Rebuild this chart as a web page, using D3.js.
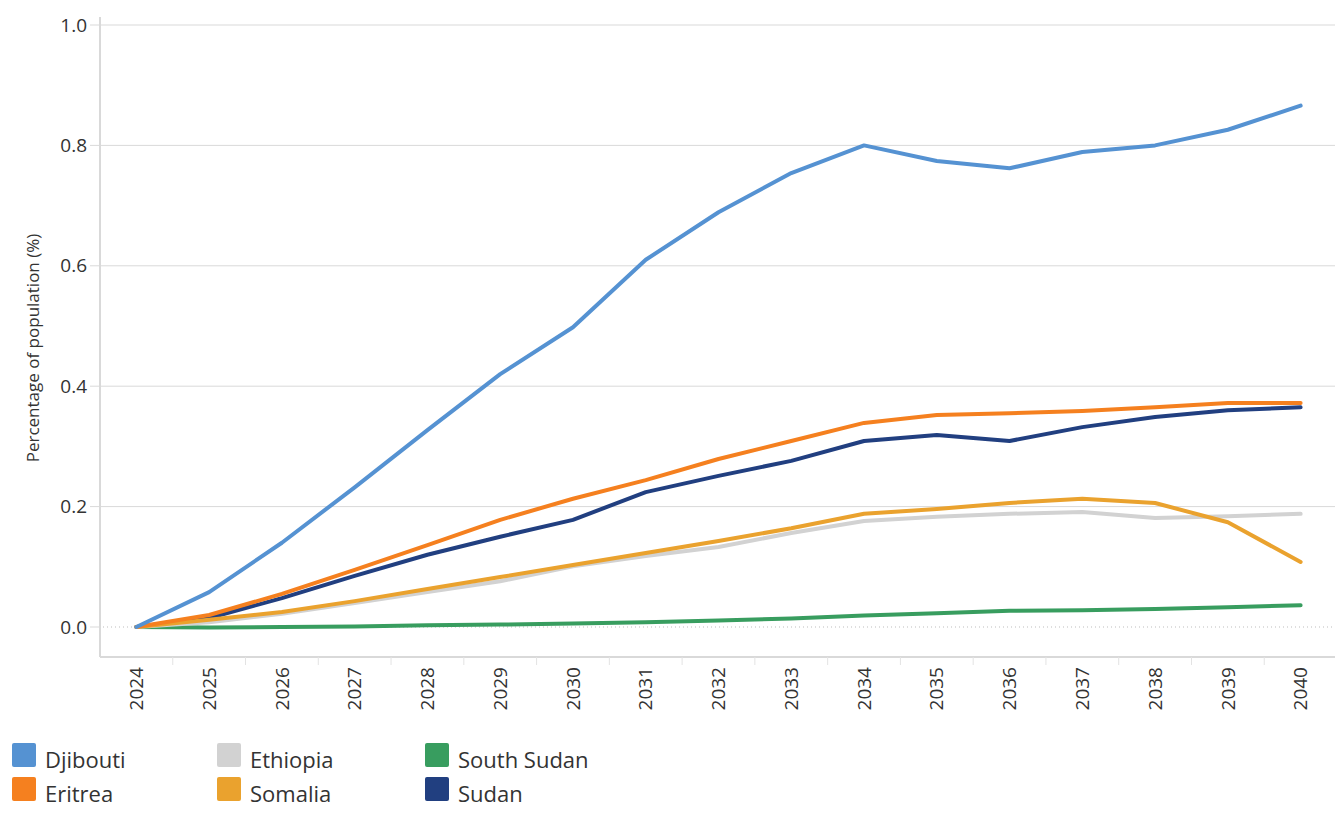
<!DOCTYPE html>
<html>
<head>
<meta charset="utf-8">
<script src="https://cdn.jsdelivr.net/npm/d3@7"></script>
<style>
  html, body { margin: 0; padding: 0; background: #fff; }
  svg { display: block; font-family: "Open Sans", sans-serif; }
</style>
</head>
<body>
<svg id="chart" width="1335" height="821"></svg>
<script>
const years = ["2024","2025","2026","2027","2028","2029","2030","2031","2032","2033","2034","2035","2036","2037","2038","2039","2040"];
const yTicks = [0, 0.2, 0.4, 0.6, 0.8, 1.0];

const djibouti   = [0, 0.058, 0.14, 0.232, 0.327, 0.42, 0.498, 0.61, 0.689, 0.754, 0.80, 0.774, 0.762, 0.789, 0.80, 0.826, 0.866];
const eritrea    = [0, 0.02, 0.055, 0.095, 0.136, 0.178, 0.213, 0.244, 0.279, 0.309, 0.339, 0.352, 0.355, 0.359, 0.365, 0.372, 0.372];
const ethiopia   = [0, 0.008, 0.022, 0.04, 0.058, 0.076, 0.101, 0.118, 0.133, 0.156, 0.176, 0.183, 0.188, 0.191, 0.181, 0.184, 0.188];
const somalia    = [0, 0.012, 0.025, 0.043, 0.063, 0.083, 0.103, 0.123, 0.143, 0.164, 0.188, 0.196, 0.206, 0.213, 0.206, 0.174, 0.108];
const southSudan = [0, -0.001, 0, 0.001, 0.003, 0.004, 0.006, 0.008, 0.011, 0.014, 0.019, 0.023, 0.027, 0.028, 0.03, 0.033, 0.036];
const sudan      = [0, 0.015, 0.048, 0.085, 0.12, 0.15, 0.178, 0.224, 0.251, 0.276, 0.309, 0.319, 0.309, 0.332, 0.349, 0.36, 0.365];

const seriesNames = ["Djibouti", "Eritrea", "Ethiopia", "Somalia", "South Sudan", "Sudan"];
const seriesValues = [djibouti, eritrea, ethiopia, somalia, southSudan, sudan];
const seriesColors = ["#5592d2", "#f5801f", "#d2d2d2", "#eaa22e", "#389d5f", "#213f80"];

const svg = d3.select("#chart");
const plotLeft = 100, plotRight = 1337, plotTop = 17, plotBottom = 657;

const x = d3.scaleBand().domain(years).range([plotLeft, plotRight]);
const y = d3.scaleLinear().domain([0, 1]).range([627, 25]);

// gridlines
const grid = svg.append("g");
yTicks.filter(t => t !== 0).forEach(t => {
  grid.append("line")
    .attr("x1", plotLeft - 10).attr("x2", 1335)
    .attr("y1", y(t)).attr("y2", y(t))
    .attr("stroke", "#d9d9d9").attr("stroke-width", 1);
});
// zero dotted line
grid.append("line")
  .attr("x1", plotLeft + 3).attr("x2", 1335)
  .attr("y1", y(0)).attr("y2", y(0))
  .attr("stroke", "#bdbdbd").attr("stroke-width", 1)
  .attr("stroke-dasharray", "1,3");
grid.append("line")
  .attr("x1", plotLeft - 10).attr("x2", plotLeft)
  .attr("y1", y(0)).attr("y2", y(0))
  .attr("stroke", "#d9d9d9").attr("stroke-width", 1);

// y axis line
svg.append("line")
  .attr("x1", plotLeft).attr("x2", plotLeft)
  .attr("y1", plotTop).attr("y2", plotBottom)
  .attr("stroke", "#d9d9d9").attr("stroke-width", 2);

// y tick labels
svg.append("g").selectAll("text").data(yTicks).join("text")
  .attr("x", 87).attr("y", d => y(d))
  .attr("dy", "0.35em")
  .attr("text-anchor", "end")
  .attr("font-size", 19)
  .attr("fill", "#333")
  .text(d => d3.format(".1f")(d));

// y title
svg.append("text")
  .attr("transform", `translate(39, 348) rotate(-90)`)
  .attr("text-anchor", "middle")
  .attr("font-size", 17)
  .attr("fill", "#333")
  .text("Percentage of population (%)");

// x axis
const xAxis = d3.axisBottom(x).tickSize(0).tickFormat(d => d);
const xg = svg.append("g").attr("transform", `translate(0, ${plotBottom})`).call(xAxis);
xg.select(".domain").remove();
xg.selectAll("text")
  .attr("transform", "rotate(-90)")
  .attr("text-anchor", "end")
  .attr("x", -10)
  .attr("y", 0)
  .attr("dy", "0.35em")
  .attr("font-size", 19)
  .attr("font-family", "Open Sans, sans-serif")
  .attr("fill", "#333");
svg.append("line")
  .attr("x1", plotLeft).attr("x2", 1335)
  .attr("y1", plotBottom).attr("y2", plotBottom)
  .attr("stroke", "#d9d9d9").attr("stroke-width", 2);
// tick marks at band boundaries
svg.append("g").selectAll("line").data(years.slice(1)).join("line")
  .attr("x1", d => x(d)).attr("x2", d => x(d))
  .attr("y1", plotBottom).attr("y2", plotBottom + 8)
  .attr("stroke", "#e3e3e3").attr("stroke-width", 1);

// lines
const line = d3.line()
  .x((d, i) => x(years[i]) + x.bandwidth() / 2)
  .y(d => y(d));
const drawOrder = [5, 4, 2, 3, 1, 0];
svg.append("g").selectAll("path").data(drawOrder).join("path")
  .attr("d", i => line(seriesValues[i]))
  .attr("fill", "none")
  .attr("stroke", i => seriesColors[i])
  .attr("stroke-width", 4)
  .attr("stroke-linejoin", "round")
  .attr("stroke-linecap", "round");

// legend
const legendPos = [[12, 743], [12, 777], [217, 743], [217, 777], [425, 743], [425, 777]];
const lg = svg.append("g");
seriesNames.forEach((name, i) => {
  const [lx, ly] = legendPos[i];
  lg.append("rect")
    .attr("x", lx).attr("y", ly)
    .attr("width", 24).attr("height", 24)
    .attr("rx", 2)
    .attr("fill", seriesColors[i]);
  lg.append("text")
    .attr("x", lx + 33).attr("y", ly + 25)
    .attr("font-size", 22)
    .attr("fill", "#333")
    .text(name);
});
</script>
</body>
</html>
